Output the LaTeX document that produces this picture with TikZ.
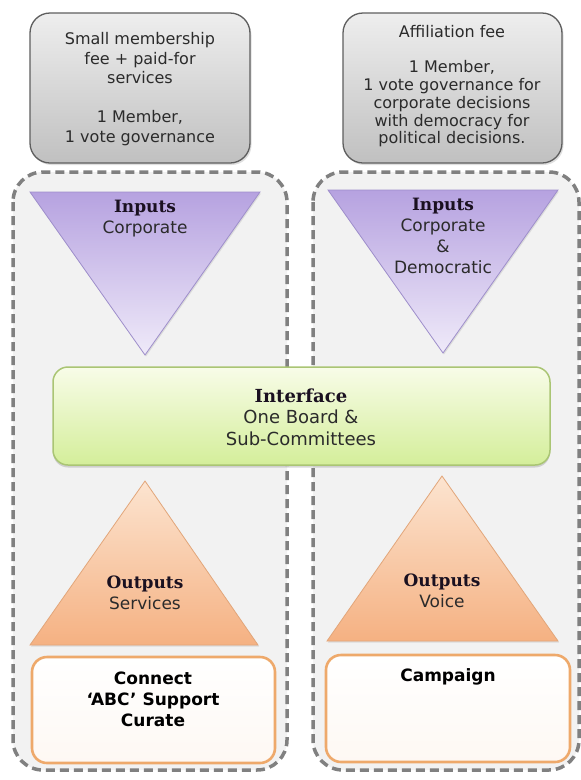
\documentclass[tikz,border=0pt]{standalone}
\usepackage{fontspec}
\setmainfont{DejaVu Sans}
\newfontfamily\titlefont{DejaVu Serif}
\usepackage{tikz}
\usetikzlibrary{calc, shadows}

\definecolor{feetop}{HTML}{EEEEEE}
\definecolor{feebot}{HTML}{C0C0C0}
\definecolor{feedraw}{HTML}{5E5E5E}
\definecolor{panefill}{HTML}{F2F2F2}
\definecolor{panedraw}{HTML}{808080}
\definecolor{intop}{HTML}{B6A2E0}
\definecolor{inbot}{HTML}{EFEAF9}
\definecolor{indraw}{HTML}{9E8ECB}
\definecolor{outtop}{HTML}{FCE4D0}
\definecolor{outbot}{HTML}{F5B182}
\definecolor{outdraw}{HTML}{E2A67A}
\definecolor{iftop}{HTML}{F8FCE8}
\definecolor{ifbot}{HTML}{D4EE9A}
\definecolor{ifdraw}{HTML}{AAC574}
\definecolor{actdraw}{HTML}{EEA96B}
\definecolor{txt}{HTML}{2B2B2B}
\definecolor{headtxt}{HTML}{1A1020}

\tikzset{
  feebox/.style={rounded corners=20pt, top color=feetop, bottom color=feebot,
    draw=feedraw, line width=1.3pt,
    drop shadow={shadow xshift=1.5pt, shadow yshift=-2pt, opacity=0.25}},
  pane/.style={rounded corners=30pt, fill=panefill, draw=panedraw,
    line width=3.5pt, dash pattern=on 9pt off 5pt},
  inwedge/.style={top color=intop, bottom color=inbot, draw=indraw, line width=0.8pt,
    drop shadow={shadow xshift=1pt, shadow yshift=-1.5pt, opacity=0.2}},
  outwedge/.style={top color=outtop, bottom color=outbot, draw=outdraw, line width=0.8pt,
    drop shadow={shadow xshift=1pt, shadow yshift=-1.5pt, opacity=0.2}},
  ifbox/.style={rounded corners=15pt, top color=iftop, bottom color=ifbot,
    draw=ifdraw, line width=1.5pt,
    drop shadow={shadow xshift=0pt, shadow yshift=-2.5pt, opacity=0.3}},
  actbox/.style={rounded corners=15pt, top color=white, bottom color=white!92!actdraw,
    draw=actdraw, line width=2.6pt},
  feetext/.style={align=center, text=txt, font=\fontsize{16}{19.6}\selectfont},
  headtext/.style={align=center, text=txt, font=\fontsize{17}{21}\selectfont},
  acttext/.style={align=center, text=black, font=\fontsize{17}{21}\selectfont\bfseries},
}
\newcommand{\headword}[1]{{\titlefont\bfseries\color{headtxt}#1}}

\begin{document}
\begin{tikzpicture}[x=1pt, y=-1pt]

  \useasboundingbox (0,0) rectangle (581,780);
  \fill[white] (0,0) rectangle (581,780);

  % corner points of the two wedges on each side
  \coordinate (inLa) at (30,192);
  \coordinate (inLb) at (260,192);
  \coordinate (inLc) at (145,355);
  \coordinate (inRa) at (328,190);
  \coordinate (inRb) at (558,190);
  \coordinate (inRc) at (443,353);
  \coordinate (outLa) at (30,645);
  \coordinate (outLb) at (258,645);
  \coordinate (outLc) at (145,481);
  \coordinate (outRa) at (327,641);
  \coordinate (outRb) at (558,641);
  \coordinate (outRc) at (442,476);

  % fee boxes
  \shadedraw[feebox] (30,13) rectangle (250,163);
  \shadedraw[feebox] (343,13) rectangle (562,163);

  % dashed panes
  \filldraw[pane] (13,172) rectangle (287,770);
  \filldraw[pane] (313,172) rectangle (579,770);

  \shadedraw[inwedge] (inLa) -- (inLb) -- (inLc) -- cycle;
  \shadedraw[inwedge] (inRa) -- (inRb) -- (inRc) -- cycle;
  \shadedraw[outwedge] (outLa) -- (outLb) -- (outLc) -- cycle;
  \shadedraw[outwedge] (outRa) -- (outRb) -- (outRc) -- cycle;

  \shadedraw[ifbox] (53,367) rectangle (550,465);

  \shadedraw[actbox] (32,657) rectangle (275,763);
  \shadedraw[actbox] (326,655) rectangle (570,762);

  \node[feetext] (feeL) at (140,89) {Small membership\\fee + paid-for\\services\\[19.6pt]1 Member,\\1 vote governance};
  \node[feetext, font=\fontsize{16}{17.8}\selectfont] (feeR) at (452,86) {Affiliation fee\\[17.8pt]1 Member,\\1 vote governance for\\corporate decisions\\with democracy for\\political decisions.};

  \node[headtext] (inL) at (145,219) {\headword{Inputs}\\Corporate};
  \node[headtext] (inR) at (443,236) {\headword{Inputs}\\Corporate\\\&\\Democratic};

  \node[headtext, font=\fontsize{18}{21.5}\selectfont] (iface) at (301,417) {\headword{Interface}\\One Board \&\\Sub-Committees};

  \node[headtext] (outL) at (145,593) {\headword{Outputs}\\Services};
  \node[headtext] (outR) at (442,591) {\headword{Outputs}\\Voice};

  \node[acttext] (actL) at (153,699) {Connect\\`ABC' Support\\Curate};
  \node[acttext] (actR) at (448,677) {Campaign};

\end{tikzpicture}
\end{document}
